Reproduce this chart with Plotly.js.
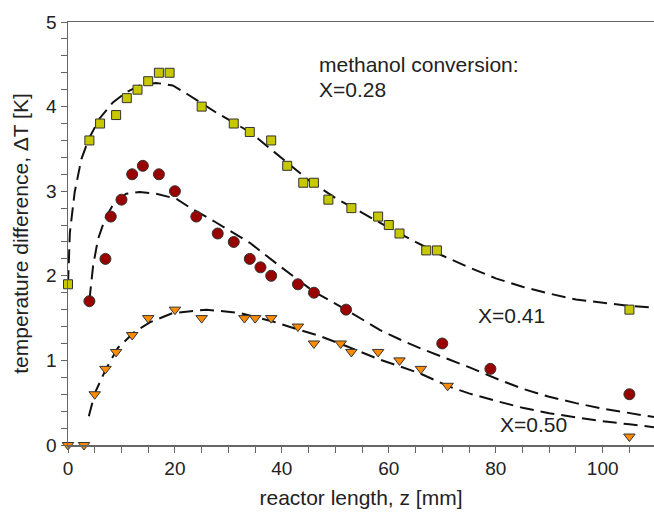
<!DOCTYPE html>
<html>
<head>
<meta charset="utf-8">
<script src="https://cdn.plot.ly/plotly-3.0.1.min.js"></script>
<style>html,body{margin:0;padding:0;background:#fff;}</style>
</head>
<body>
<div id="chart" style="width:654px;height:514px;"></div>
<script>
// measured data, X = 0.28 (squares)
const z028 = [0, 4, 6, 9, 11, 13, 15, 17, 19, 25, 31, 34, 38, 41, 44, 46, 48.7, 53, 58, 60, 62, 67, 69, 105];
const dT028 = [1.9, 3.6, 3.8, 3.9, 4.1, 4.2, 4.3, 4.4, 4.4, 4.0, 3.8, 3.7, 3.6, 3.3, 3.1, 3.1, 2.9, 2.8, 2.7, 2.6, 2.5, 2.3, 2.3, 1.6];
// X = 0.41 (circles)
const z041 = [4, 7, 8, 10, 12, 14, 17, 20, 24, 28, 31, 34, 36, 38, 43, 46, 52, 70, 79, 105];
const dT041 = [1.7, 2.2, 2.7, 2.9, 3.2, 3.3, 3.2, 3.0, 2.7, 2.5, 2.4, 2.2, 2.1, 2.0, 1.9, 1.8, 1.6, 1.2, 0.9, 0.6];
// X = 0.50 (triangles)
const z050 = [0, 3, 5, 7, 9, 12, 15, 20, 25, 33, 35, 38, 43, 46, 51, 53, 58, 62, 66, 71, 105];
const dT050 = [0, 0, 0.6, 0.9, 1.1, 1.3, 1.5, 1.6, 1.5, 1.5, 1.5, 1.5, 1.4, 1.2, 1.2, 1.1, 1.1, 1.0, 0.9, 0.7, 0.1];

// model curves (dashed)
const fitZ028 = [0, 0.1, 0.35, 1.25, 2.5, 3.9, 5.9, 8.4, 10.9, 13.4, 16.5, 19.6, 22.5, 27.7, 34, 40, 45, 50, 55, 60, 65, 70, 75, 80, 85, 90, 95, 100, 105, 109.6];
const fitT028 = [1.9, 2.15, 2.51, 2.99, 3.38, 3.62, 3.86, 4.05, 4.17, 4.25, 4.28, 4.25, 4.14, 3.93, 3.70, 3.39, 3.13, 2.92, 2.74, 2.57, 2.40, 2.24, 2.10, 1.97, 1.87, 1.79, 1.72, 1.68, 1.645, 1.625];
const fitZ041 = [4, 4.4, 4.7, 5.6, 6.9, 8.7, 10.9, 13.4, 16.5, 20.3, 22.7, 27.7, 34, 39.5, 45.8, 52, 58.3, 62, 66, 71.3, 75, 80.7, 85, 90, 95, 100, 105, 109.6];
const fitT041 = [1.71, 1.92, 2.12, 2.43, 2.67, 2.87, 2.97, 2.99, 2.97, 2.91, 2.81, 2.63, 2.39, 2.12, 1.82, 1.60, 1.36, 1.25, 1.14, 1.01, 0.92, 0.77, 0.665, 0.57, 0.495, 0.43, 0.375, 0.33];
const fitZ050 = [3.9, 5.0, 7.2, 9.35, 12.5, 15.3, 19.6, 25.9, 32.1, 38.3, 43.3, 47, 52, 58.3, 62, 65.7, 71.3, 75, 80.7, 85, 90, 95, 100, 105, 109.6];
const fitT050 = [0.34, 0.61, 0.91, 1.15, 1.34, 1.45, 1.56, 1.60, 1.56, 1.46, 1.36, 1.29, 1.17, 1.01, 0.93, 0.85, 0.69, 0.61, 0.51, 0.44, 0.375, 0.325, 0.28, 0.245, 0.21];

const xTicks = [0, 20, 40, 60, 80, 100];
const yTicks = [0, 1, 2, 3, 4, 5];

const FONT = 'Liberation Sans, Arial, sans-serif';
const dashLine = {color: '#111', width: 2, dash: '14px,7px'};

const traces = [
  {x: fitZ028, y: fitT028, mode: 'lines', line: dashLine, hoverinfo: 'skip'},
  {x: fitZ041, y: fitT041, mode: 'lines', line: dashLine, hoverinfo: 'skip'},
  {x: fitZ050, y: fitT050, mode: 'lines', line: dashLine, hoverinfo: 'skip'},
  {x: z028, y: dT028, mode: 'markers', cliponaxis: false,
   marker: {symbol: 'square', size: 9, color: '#c8c800', line: {color: '#333', width: 1}}},
  {x: z041, y: dT041, mode: 'markers', cliponaxis: false,
   marker: {symbol: 'circle', size: 11, color: '#990000', line: {color: '#333', width: 1}}},
  {x: z050, y: dT050, mode: 'markers', cliponaxis: false,
   marker: {symbol: 'triangle-down', size: 10, color: '#ff8c00', line: {color: '#333', width: 1}}}
];

const layout = {
  width: 654, height: 514,
  margin: {l: 68, r: 0, t: 22, b: 69},
  paper_bgcolor: '#fff', plot_bgcolor: '#fff',
  showlegend: false,
  font: {family: FONT, size: 19, color: '#222'},
  xaxis: {
    range: [0, 109.6], showgrid: false, zeroline: false,
    showline: true, linecolor: '#666', linewidth: 1.5, mirror: true,
    ticks: 'outside', ticklen: 6, tickcolor: '#666', tickwidth: 1,
    tickvals: xTicks, ticktext: xTicks.map(String),
    minor: {dtick: 5, ticks: 'outside', ticklen: 6, tickcolor: '#666', showgrid: false},
    tickfont: {size: 19, color: '#222'},
    title: {text: 'reactor length, z [mm]', font: {size: 21, color: '#222'}, standoff: 12}
  },
  yaxis: {
    range: [0, 5], showgrid: false, zeroline: false,
    showline: true, linecolor: '#666', linewidth: 1.5,
    ticks: 'outside', ticklen: 6, tickcolor: '#666', tickwidth: 1,
    tickvals: yTicks, ticktext: yTicks.map(String),
    minor: {dtick: 0.2, ticks: 'outside', ticklen: 6, tickcolor: '#666', showgrid: false},
    tickfont: {size: 19, color: '#222'},
    title: {text: 'temperature difference, ΔT [K]', font: {size: 21, color: '#222'}, standoff: 12}
  },
  annotations: [
    {x: 46.5, y: 4.50, xref: 'x', yref: 'y', text: 'methanol conversion:', showarrow: false,
     xanchor: 'left', yanchor: 'middle', font: {size: 21, color: '#222'}},
    {x: 46.5, y: 4.20, xref: 'x', yref: 'y', text: 'X=0.28', showarrow: false,
     xanchor: 'left', yanchor: 'middle', font: {size: 21, color: '#222'}},
    {x: 76.3, y: 1.53, xref: 'x', yref: 'y', text: 'X=0.41', showarrow: false,
     xanchor: 'left', yanchor: 'middle', font: {size: 21, color: '#222'}},
    {x: 80.4, y: 0.24, xref: 'x', yref: 'y', text: 'X=0.50', showarrow: false,
     xanchor: 'left', yanchor: 'middle', font: {size: 21, color: '#222'}}
  ]
};

Plotly.newPlot('chart', traces, layout, {displayModeBar: false, staticPlot: true});
</script>
</body>
</html>
